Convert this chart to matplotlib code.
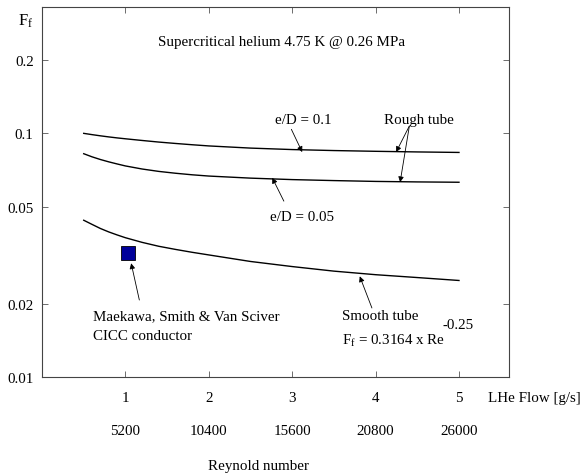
import matplotlib
matplotlib.use("Agg")
import matplotlib.pyplot as plt

plt.rcParams["font.family"] = ["Liberation Serif", "DejaVu Serif"]
plt.rcParams["mathtext.fontset"] = "custom"
plt.rcParams["mathtext.rm"] = "Liberation Serif"
plt.rcParams["mathtext.it"] = "Liberation Serif"

# LHe flow [g/s]
flow = [0.5, 0.6, 0.7, 0.8, 0.9, 1.0, 1.2, 1.4, 1.6, 1.8, 2.0, 2.5, 3.0, 3.5, 4.0, 4.5, 5.0]
# friction factor
rough_01 = [0.100, 0.0988, 0.0977, 0.0967, 0.0958, 0.0950, 0.0935, 0.0921, 0.0909, 0.0898,
            0.0888, 0.0870, 0.0858, 0.0850, 0.0844, 0.0839, 0.0835]
rough_005 = [0.0825, 0.0801, 0.0781, 0.0764, 0.0749, 0.0735, 0.0714, 0.0698, 0.0686, 0.0676,
             0.0668, 0.0655, 0.0646, 0.0640, 0.0635, 0.0632, 0.0630]
smooth = [0.0440, 0.0423, 0.0407, 0.0394, 0.0383, 0.0373, 0.0357, 0.0344, 0.0334, 0.0325,
          0.0317, 0.0298, 0.0284, 0.0272, 0.0263, 0.0256, 0.0249]

cicc_flow = [1.036]
cicc_ff = [0.0324]

flow_ticks = [1, 2, 3, 4, 5]
reynolds_labels = ["5200", "10400", "15600", "20800", "26000"]
ff_ticks = [0.01, 0.02, 0.05, 0.1, 0.2]
ff_labels = ["0.01", "0.02", "0.05", "0.1", "0.2"]

fs = 10.8

fig = plt.figure(figsize=(5.82, 4.77), dpi=100)
ax = fig.add_axes([0.0722, 0.2075, 0.8024, 0.7757])

ax.plot(flow, rough_01, color="black", lw=1.0)
ax.plot(flow, rough_005, color="black", lw=1.0)
ax.plot(flow, smooth, color="black", lw=1.0)
ax.plot(cicc_flow, cicc_ff, marker="s", ms=9.5, color="#00009a", mec="black", mew=0.6, ls="none")

ax.set_yscale("log")
ax.set_xlim(0, 5.6)
ax.set_ylim(0.01, 0.33)
ax.set_yticks(ff_ticks)
ax.set_yticklabels(ff_labels)
ax.minorticks_off()
ax.set_xticks(flow_ticks)
ax.set_xticklabels([str(t) for t in flow_ticks])
ax.tick_params(direction="in", top=True, right=True, length=4, width=0.6,
               labelsize=fs, color="#555555")
ax.tick_params(axis="x", pad=10)
ax.tick_params(axis="y", pad=6)
for s in ax.spines.values():
    s.set_linewidth(0.8)
    s.set_color("#444444")

xt = ax.get_xaxis_transform()
for t, lab in zip(flow_ticks, reynolds_labels):
    ax.text(t, -0.145, lab, transform=xt, ha="center", va="center", fontsize=fs)
ax.text(0.955, -0.054, "LHe Flow [g/s]", transform=ax.transAxes, ha="left", va="center", fontsize=fs)
ax.text(2.6, -0.24, "Reynold number", transform=xt, ha="center", va="center", fontsize=fs)

fig.text(26 / 582, 1 - 21 / 477, r"F$_\mathrm{f}$", ha="center", va="center", fontsize=12)

ax.text(0.5 * (158 + 405) / 467 - 42 / 467, 1 - (42.7 - 8) / 370,
        "Supercritical helium 4.75 K @ 0.26 MPa", transform=ax.transAxes,
        ha="center", va="center", fontsize=fs)

arrow = dict(arrowstyle="-|>", color="black", lw=0.6, mutation_scale=8, shrinkA=0, shrinkB=0)

ax.text(3.135, 0.1142, "e/D = 0.1", ha="center", va="center", fontsize=fs)
ax.annotate("", xy=(3.12, 0.0838), xytext=(2.99, 0.1039), arrowprops=arrow)
ax.text(4.515, 0.1142, "Rough tube", ha="center", va="center", fontsize=fs)
ax.annotate("", xy=(4.246, 0.0838), xytext=(4.405, 0.1072), arrowprops=arrow)
ax.annotate("", xy=(4.294, 0.0630), xytext=(4.405, 0.1072), arrowprops=arrow)
ax.text(3.117, 0.0457, "e/D = 0.05", ha="center", va="center", fontsize=fs)
ax.annotate("", xy=(2.761, 0.0657), xytext=(2.90, 0.0527), arrowprops=arrow)

ax.text(0.61, 0.01783, "Maekawa, Smith & Van Sciver", ha="left", va="center", fontsize=fs)
ax.text(0.61, 0.01475, "CICC conductor", ha="left", va="center", fontsize=fs)
ax.annotate("", xy=(1.069, 0.0293), xytext=(1.167, 0.0207), arrowprops=arrow)

ax.text(3.597, 0.01783, "Smooth tube", ha="left", va="center", fontsize=fs)
ax.text(3.597, 0.01422, r"F$_\mathrm{f}$ = 0.3164 x Re", ha="left", va="center", fontsize=fs)
ax.text(4.807, 0.01640, "-0.25", ha="left", va="center", fontsize=fs)
ax.annotate("", xy=(3.81, 0.0259), xytext=(3.956, 0.0192), arrowprops=arrow)

fig.savefig("out.png", dpi=100)
